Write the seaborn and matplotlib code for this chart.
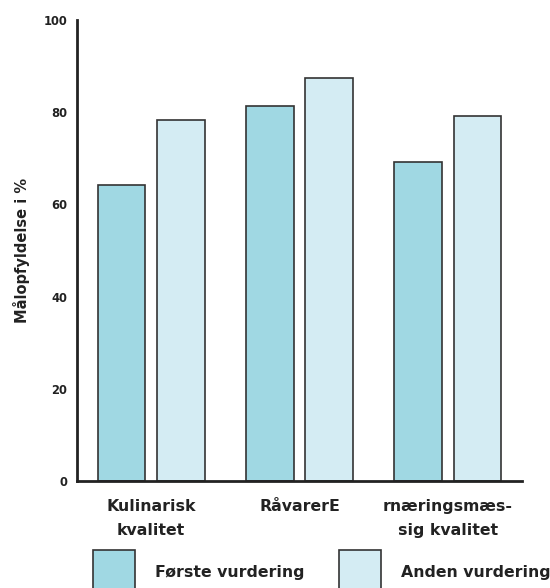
import pandas as pd
import seaborn as sns
import matplotlib.pyplot as plt
from matplotlib.ticker import FixedLocator

# data
categories = ["Kulinarisk\nkvalitet", "RåvarerE", "rnæringsmæs-\nsig kvalitet"]
series_names = ["Første vurdering", "Anden vurdering"]
first_values = [64.2, 81.3, 69.2]
second_values = [78.3, 87.4, 79.2]
yticks = [0, 20, 40, 60, 80, 100]

colors = ["#A0D8E3", "#D4ECF3"]

sns.set_style("white")
plt.rcParams['font.family'] = ['DejaVu Sans']
plt.rcParams['font.weight'] = 'bold'

df = pd.DataFrame({
    "kategori": categories * 2,
    "serie": [series_names[0]] * 3 + [series_names[1]] * 3,
    "værdi": first_values + second_values,
})

fig = plt.figure(figsize=(5.5, 5.88), dpi=100)
ax = fig.add_axes([0.14, 0.182, 0.809, 0.784])

sns.barplot(data=df, x="kategori", y="værdi", hue="serie",
            hue_order=series_names, palette=colors, saturation=1,
            width=0.8, gap=0.2, edgecolor="#333333", linewidth=1.2, ax=ax)

ax.set_xlim(-0.5, 2.5)
ax.set_ylim(0, 100)
ax.set_yticks(yticks)
ax.set_yticklabels([str(v) for v in yticks], fontsize=8.3, fontweight='bold', color="#222222")
ax.tick_params(axis='y', length=0, pad=7)

ax.set_xticks(range(len(categories)))
ax.set_xticklabels(categories, fontsize=11.3, fontweight='bold', color="#222222", linespacing=1.75)
ax.tick_params(axis='x', which='major', length=0, pad=13)
ax.xaxis.set_minor_locator(FixedLocator([-0.5, 0.5, 1.5, 2.5]))
ax.tick_params(axis='x', which='minor', direction='in', length=8, width=2, color="#222222")

ax.set_xlabel("")
ax.set_ylabel("Målopfyldelse i %", fontsize=10.5, fontweight='bold', color="#222222")
ax.yaxis.set_label_coords(-0.105, 0.5)

sns.despine(ax=ax)
for side in ["left", "bottom"]:
    ax.spines[side].set_linewidth(2)
    ax.spines[side].set_color("#222222")

handles, labels = ax.get_legend_handles_labels()
ax.get_legend().remove()
fig.legend(handles, labels, loc='upper left', bbox_to_anchor=(0.169, 0.0646),
           ncol=2, frameon=False, fontsize=11.3, handlelength=2.7, handleheight=4.0,
           handletextpad=1.25, columnspacing=2.2, borderpad=0, borderaxespad=0,
           labelcolor="#222222")

fig.savefig("out.png", dpi=100)
